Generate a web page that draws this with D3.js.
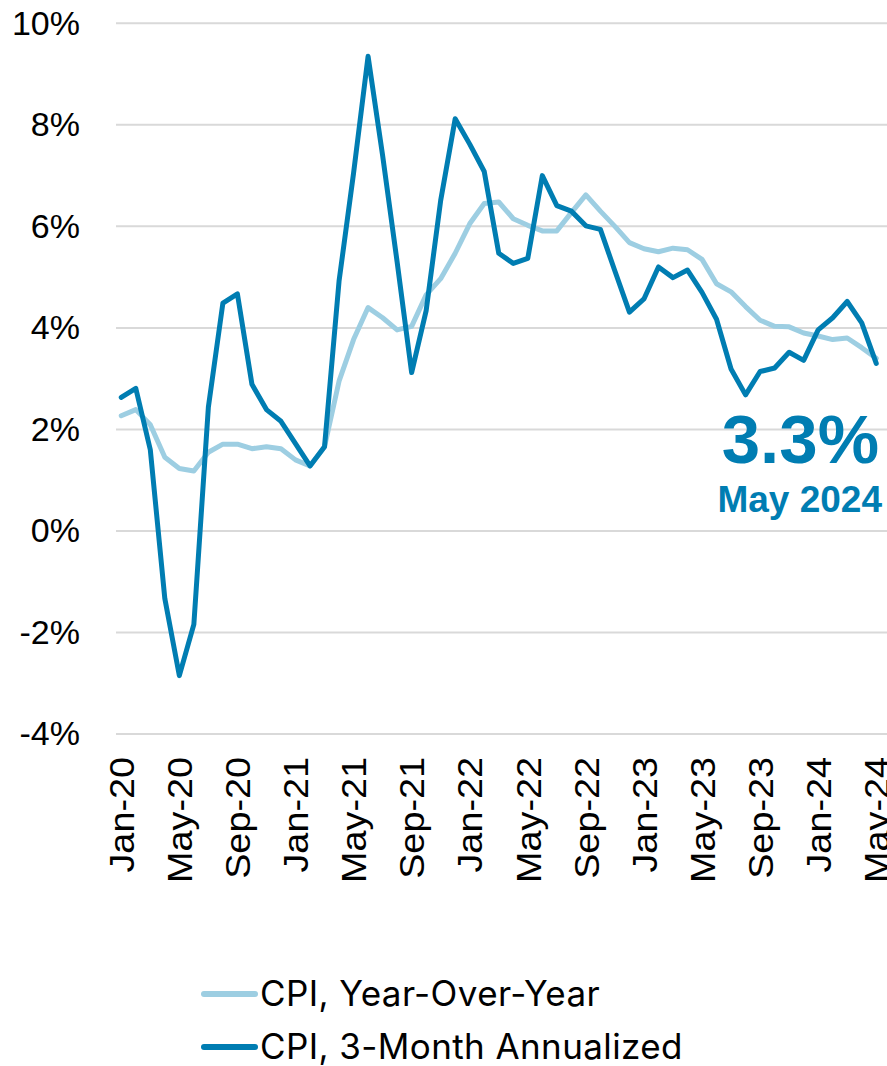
<!DOCTYPE html>
<html>
<head>
<meta charset="utf-8">
<script src="https://cdn.jsdelivr.net/npm/d3@7"></script>
<style>
  html, body { margin: 0; padding: 0; background: #fff; }
  svg { display: block; }
</style>
</head>
<body>
<script>
// months Jan-20 .. May-24
const monthNames = ["Jan","Feb","Mar","Apr","May","Jun","Jul","Aug","Sep","Oct","Nov","Dec"];
const years = ["20","21","22","23","24"];
const months = [];
years.forEach(y => monthNames.forEach(m => months.push(m + "-" + y)));
months.splice(53);

// CPI year-over-year (%)
const cpiYoY = [2.27, 2.39, 2.09, 1.45, 1.23, 1.18, 1.55, 1.71, 1.71, 1.62, 1.66, 1.62,
  1.40, 1.28, 1.66, 2.95, 3.77, 4.40, 4.20, 3.96, 4.03, 4.65, 4.97, 5.47,
  6.05, 6.45, 6.48, 6.15, 6.02, 5.91, 5.91, 6.27, 6.62, 6.30, 6.00, 5.68,
  5.56, 5.50, 5.57, 5.54, 5.35, 4.87, 4.71, 4.42, 4.15, 4.03, 4.02, 3.90,
  3.84, 3.77, 3.80, 3.61, 3.40];

// CPI 3-month annualized (%)
const cpi3m = [2.63, 2.81, 1.60, -1.33, -2.85, -1.84, 2.44, 4.49, 4.67, 2.89, 2.39, 2.16,
  1.72, 1.28, 1.66, 4.92, 7.05, 9.35, 7.40, 5.30, 3.12, 4.34, 6.51, 8.12,
  7.62, 7.08, 5.47, 5.27, 5.37, 7.00, 6.41, 6.30, 6.01, 5.94, 5.12, 4.31,
  4.57, 5.20, 4.99, 5.14, 4.70, 4.17, 3.19, 2.68, 3.14, 3.21, 3.52, 3.36,
  3.96, 4.20, 4.52, 4.10, 3.30];

const xTicks = ["Jan-20","May-20","Sep-20","Jan-21","May-21","Sep-21","Jan-22",
  "May-22","Sep-22","Jan-23","May-23","Sep-23","Jan-24","May-24"];
const yTicks = [-4, -2, 0, 2, 4, 6, 8, 10];

const seriesNames = ["CPI, Year-Over-Year", "CPI, 3-Month Annualized"];
const colors = ["#9DCEE2", "#007DB2"];

const W = 887, H = 1066;

const svg = d3.select("body").append("svg")
    .attr("width", W)
    .attr("height", H);

const x = d3.scalePoint()
    .domain(months)
    .range([114, 883.5])
    .padding(0.5);

const y = d3.scaleLinear()
    .domain([-4, 10])
    .range([734, 23.3]);

// gridlines
svg.append("g")
    .selectAll("line")
    .data(yTicks)
    .join("line")
    .attr("x1", 116)
    .attr("x2", W)
    .attr("y1", d => y(d))
    .attr("y2", d => y(d))
    .attr("stroke", "#d9d9d9")
    .attr("stroke-width", 2);

// y axis labels
const yAxis = svg.append("g")
    .attr("transform", "translate(80,0)")
    .call(d3.axisLeft(y).tickValues(yTicks).tickFormat(d => d + "%").tickSize(0).tickPadding(0));
yAxis.select(".domain").remove();
yAxis.selectAll("text")
    .attr("font-family", "'Liberation Sans', Arial, sans-serif")
    .attr("font-size", 34)
    .attr("fill", "#000");

// x axis labels
const xAxis = svg.append("g")
    .attr("transform", "translate(0,757)")
    .call(d3.axisBottom(x).tickValues(xTicks).tickSize(0).tickPadding(0));
xAxis.select(".domain").remove();
xAxis.selectAll("text")
    .attr("font-family", "'Liberation Sans', Arial, sans-serif")
    .attr("font-size", 35)
    .attr("fill", "#000")
    .attr("text-anchor", "end")
    .attr("x", 0)
    .attr("y", 0)
    .attr("dy", "0.35em")
    .attr("transform", "rotate(-90) scale(1.08,1)");

// lines
const line = d3.line()
    .x((d, i) => x(months[i]))
    .y(d => y(d));

[cpiYoY, cpi3m].forEach((s, k) => {
    svg.append("path")
        .datum(s)
        .attr("d", line)
        .attr("fill", "none")
        .attr("stroke", colors[k])
        .attr("stroke-width", 5)
        .attr("stroke-linejoin", "round")
        .attr("stroke-linecap", "round");
});

// annotation for latest value
const last = cpi3m[cpi3m.length - 1];
svg.append("text")
    .attr("x", 879)
    .attr("y", 463)
    .attr("text-anchor", "end")
    .attr("font-family", "'Liberation Sans', Arial, sans-serif")
    .attr("font-weight", "bold")
    .attr("font-size", 69)
    .attr("fill", colors[1])
    .text(last.toFixed(1) + "%");

svg.append("text")
    .attr("x", 882)
    .attr("y", 512)
    .attr("text-anchor", "end")
    .attr("font-family", "'Liberation Sans', Arial, sans-serif")
    .attr("font-weight", "bold")
    .attr("font-size", 37)
    .attr("fill", colors[1])
    .text("May 2024");

// legend
const legend = svg.append("g");
const legendY = [994, 1047];
seriesNames.forEach((name, k) => {
    legend.append("line")
        .attr("x1", 204).attr("x2", 255)
        .attr("y1", legendY[k]).attr("y2", legendY[k])
        .attr("stroke", colors[k])
        .attr("stroke-width", 6)
        .attr("stroke-linecap", "round");
    legend.append("text")
        .attr("x", 260)
        .attr("y", legendY[k] + 12)
        .attr("font-family", "Inter, 'Noto Sans', sans-serif")
        .attr("font-size", 35)
        .attr("letter-spacing", 0.4)
        .attr("fill", "#000")
        .text(name);
});
</script>
</body>
</html>
